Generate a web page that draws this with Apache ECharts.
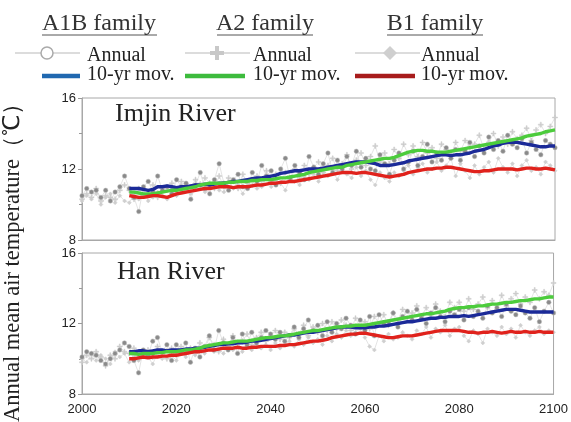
<!DOCTYPE html>
<html><head><meta charset="utf-8">
<script src="https://cdn.jsdelivr.net/npm/echarts@6/dist/echarts.min.js"></script>
<style>html,body{margin:0;padding:0;background:#fff}#c{width:571px;height:422px}</style>
</head><body><div id="c"></div>
<script>
// ---- data ----
const rivers = ["Imjin River", "Han River"];
const scenarios = ["A1B family", "A2 family", "B1 family"];
const xTicks = [2000, 2020, 2040, 2060, 2080, 2100];
const yTicks = [8, 12, 16];
const annualStart = 2000;
const movStart = 2010;

// Imjin River annual (2000-2100)
const imjinA1BAnnual = [10.5,10.9,10.7,10.8,10.4,10.8,10.2,10.7,11.0,11.6,
 10.9,10.4,9.6,11.0,11.3,10.7,11.6,10.8,11.0,10.6,
 11.4,11.0,11.2,10.3,11.1,11.8,10.9,10.6,11.4,12.3,
 11.2,10.8,11.4,11.7,11.0,10.9,11.8,11.3,12.2,11.6,
 11.9,11.1,12.0,12.6,11.5,12.2,11.8,11.4,12.7,12.1,
 11.7,12.3,12.9,11.8,12.5,12.0,12.7,12.2,13.0,12.1,
 12.6,12.0,11.9,12.8,12.3,11.7,12.5,12.9,12.0,12.4,
 13.0,12.2,12.7,13.4,12.4,12.9,12.5,13.2,12.6,13.1,
 12.5,13.0,13.5,12.7,13.3,12.9,13.8,13.1,13.6,13.0,
 13.9,13.4,13.2,13.7,12.9,13.5,13.1,12.8,13.6,13.4,13.2];
const imjinA2Annual = [10.3,10.6,10.4,10.9,10.2,10.5,10.4,10.3,10.8,11.1,
 10.8,10.3,10.9,10.5,10.6,11.1,10.4,10.9,10.8,11.2,
 10.6,11.3,10.8,11.0,11.4,10.9,11.5,11.2,10.9,11.6,
 11.0,11.5,11.3,10.9,11.7,11.2,11.1,11.6,11.3,11.9,
 11.3,11.7,11.2,11.8,11.4,12.0,11.5,12.2,11.7,12.1,
 12.4,11.8,12.2,12.6,11.9,12.3,12.8,12.0,12.5,12.9,
 12.2,12.7,13.3,12.4,12.9,12.3,13.1,12.6,13.4,12.8,
 13.3,12.7,13.5,12.9,13.2,12.6,13.4,13.1,12.8,13.5,
 13.0,13.6,13.2,13.4,13.9,13.1,13.5,14.0,13.3,13.8,
 13.4,14.1,13.7,13.9,14.3,13.6,14.2,14.5,14.0,14.4,14.9];
const imjinB1Annual = [10.2,10.5,10.3,10.6,10.0,10.4,10.6,10.1,10.5,10.2,
 10.1,10.6,10.3,10.8,10.2,10.4,10.7,10.5,10.3,10.9,
 10.5,10.8,11.1,10.6,10.9,11.2,10.7,11.0,11.3,10.8,
 10.7,11.3,10.9,11.1,10.6,11.2,11.4,10.9,11.0,11.5,
 11.0,11.4,11.2,10.8,11.5,11.3,11.1,11.6,11.4,11.7,
 11.3,11.8,11.6,11.9,11.4,12.0,11.7,11.5,12.1,11.6,
 11.9,11.4,11.1,11.8,11.5,11.3,11.8,11.6,11.9,12.2,
 11.7,12.1,12.3,11.8,12.0,12.4,11.9,12.2,12.6,11.6,
 12.3,11.9,11.5,12.2,11.7,12.1,12.4,11.8,12.6,12.1,
 11.8,12.3,11.6,12.2,12.5,11.9,12.1,11.7,12.4,12.2,11.9];
// Imjin River 10-yr moving averages (2010-2100)
const imjinA1BMov = [10.9,10.9,10.9,10.85,10.8,10.85,11.0,11.0,11.05,11.0,
 10.95,11.0,11.0,11.05,11.1,11.1,11.15,11.1,11.15,11.2,
 11.2,11.25,11.3,11.3,11.35,11.4,11.45,11.5,11.5,11.55,
 11.6,11.65,11.75,11.8,11.85,11.9,11.9,11.95,12.0,12.0,
 12.0,12.05,12.1,12.15,12.2,12.25,12.3,12.35,12.4,12.4,
 12.4,12.35,12.3,12.2,12.2,12.2,12.25,12.3,12.35,12.45,
 12.5,12.55,12.6,12.65,12.7,12.75,12.8,12.8,12.75,12.8,
 12.8,12.85,12.9,13.0,13.05,13.1,13.2,13.3,13.35,13.45,
 13.5,13.5,13.5,13.45,13.4,13.35,13.3,13.25,13.25,13.3,13.3];
const imjinA2Mov = [10.7,10.7,10.65,10.6,10.6,10.6,10.65,10.7,10.75,10.8,
 10.8,10.85,10.9,10.95,11.0,11.1,11.15,11.2,11.2,11.2,
 11.2,11.25,11.25,11.3,11.3,11.3,11.35,11.35,11.4,11.4,
 11.4,11.45,11.5,11.5,11.55,11.6,11.65,11.7,11.8,11.85,
 11.9,11.95,12.0,12.05,12.1,12.1,12.2,12.25,12.3,12.35,
 12.4,12.45,12.5,12.55,12.6,12.6,12.65,12.75,12.85,12.95,
 13.0,13.05,13.05,13.0,13.0,12.95,12.95,12.95,13.0,13.05,
 13.1,13.15,13.2,13.25,13.3,13.35,13.4,13.45,13.5,13.55,
 13.6,13.65,13.7,13.75,13.85,13.9,13.95,14.0,14.1,14.15,14.2];
const imjinB1Mov = [10.5,10.45,10.4,10.4,10.45,10.5,10.5,10.45,10.4,10.5,
 10.6,10.65,10.7,10.75,10.8,10.85,10.9,10.9,10.95,11.0,
 11.0,11.0,10.95,11.0,11.0,11.0,11.05,11.1,11.1,11.15,
 11.2,11.2,11.25,11.25,11.3,11.3,11.35,11.4,11.45,11.5,
 11.55,11.6,11.65,11.7,11.75,11.8,11.8,11.8,11.75,11.8,
 11.8,11.75,11.7,11.65,11.6,11.55,11.6,11.65,11.7,11.8,
 11.85,11.9,11.95,12.0,12.0,12.05,12.05,12.1,12.1,12.05,
 12.0,11.95,11.9,11.85,11.85,11.9,11.9,11.95,12.0,12.0,
 12.0,12.0,11.95,12.0,12.05,12.05,12.0,12.0,12.05,12.0,11.95];

// Han River annual (2000-2100)
const hanA1BAnnual = [10.1,10.4,10.3,10.2,9.9,9.7,10.0,10.3,10.5,10.9,
 10.7,9.9,9.2,10.5,10.2,11.0,11.2,10.4,10.8,9.9,
 10.8,10.4,10.9,9.8,10.6,10.1,10.7,11.3,10.5,11.6,
 10.9,10.5,11.2,10.3,11.4,10.8,11.5,10.9,11.2,11.6,
 11.4,11.1,11.5,11.0,11.3,11.8,11.2,11.7,12.2,11.6,
 11.9,11.3,12.1,11.5,12.0,11.7,12.3,11.9,11.4,12.2,
 11.6,12.4,11.3,12.5,12.0,12.1,12.6,11.8,12.4,12.7,
 12.2,12.8,12.3,12.0,12.6,12.9,12.4,12.1,12.7,12.5,
 12.8,12.2,12.9,12.4,12.7,12.3,13.0,12.6,12.9,12.4,
 13.1,12.7,12.5,13.0,12.6,12.3,12.9,12.1,12.7,13.2,12.6];
const hanA2Annual = [9.8,10.2,10.0,10.4,10.1,9.6,10.2,10.0,10.7,10.4,
 10.3,10.6,10.0,10.2,10.5,10.1,10.7,10.3,10.0,10.6,
 10.2,10.7,10.4,10.6,10.3,10.9,10.5,11.2,10.8,10.4,
 11.1,10.7,11.3,10.9,11.0,11.4,10.8,11.2,11.5,11.0,
 11.3,11.6,11.1,11.5,11.2,11.7,11.4,11.9,11.3,11.8,
 11.5,12.0,11.6,12.1,11.7,12.2,11.9,11.6,12.3,11.8,
 12.1,11.7,12.4,12.0,12.5,11.9,12.6,12.2,12.8,12.3,
 12.6,13.0,12.4,12.9,12.5,13.1,12.7,12.4,13.2,12.9,
 13.2,12.7,13.4,12.8,13.1,13.5,12.9,13.3,12.8,13.6,
 13.0,13.4,13.7,13.1,13.5,13.2,13.9,13.4,13.8,13.6,14.3];
const hanB1Annual = [10.0,9.8,10.3,9.9,10.2,10.0,9.7,10.4,10.1,10.3,
 9.8,10.2,9.9,10.4,10.1,9.7,10.3,10.0,10.5,10.2,
 9.9,10.4,10.1,10.6,10.2,10.5,10.3,10.8,10.4,10.6,
 10.3,10.8,10.5,10.9,10.4,10.7,10.5,10.9,10.6,10.8,
 10.5,10.9,10.6,10.8,11.0,10.7,11.1,10.8,11.2,10.9,
 11.1,10.8,11.3,11.0,11.4,11.2,11.6,11.3,11.5,11.7,
 11.2,10.7,10.5,11.3,11.0,11.4,11.1,11.2,11.5,11.3,
 11.1,11.6,11.4,11.8,11.2,11.7,11.5,11.9,11.3,11.7,
 11.8,11.3,11.0,11.6,11.4,10.9,11.7,11.5,11.3,11.8,
 11.4,11.7,11.2,11.9,11.5,11.3,11.6,11.8,11.4,11.6,11.5];
// Han River 10-yr moving averages (2010-2100)
const hanA1BMov = [10.4,10.4,10.45,10.45,10.4,10.45,10.5,10.5,10.45,10.5,
 10.5,10.5,10.55,10.55,10.6,10.6,10.65,10.7,10.75,10.8,
 10.8,10.85,10.85,10.9,10.9,10.95,11.0,11.0,11.05,11.1,
 11.15,11.2,11.25,11.3,11.35,11.35,11.4,11.45,11.5,11.5,
 11.55,11.6,11.65,11.7,11.75,11.8,11.8,11.8,11.75,11.75,
 11.75,11.8,11.8,11.85,11.85,11.9,11.95,12.0,12.05,12.1,
 12.1,12.15,12.2,12.25,12.3,12.3,12.35,12.35,12.4,12.4,
 12.4,12.45,12.4,12.45,12.5,12.55,12.6,12.65,12.7,12.75,
 12.8,12.8,12.8,12.75,12.7,12.65,12.65,12.65,12.65,12.65,12.65];
const hanA2Mov = [10.3,10.3,10.25,10.3,10.3,10.3,10.35,10.35,10.4,10.4,
 10.4,10.45,10.5,10.5,10.55,10.6,10.7,10.75,10.8,10.85,
 10.9,10.9,10.95,11.0,11.0,11.0,11.05,11.1,11.15,11.2,
 11.2,11.25,11.3,11.3,11.35,11.4,11.45,11.5,11.55,11.6,
 11.6,11.65,11.7,11.75,11.8,11.8,11.85,11.85,11.9,11.9,
 11.9,11.95,12.0,12.05,12.1,12.15,12.2,12.25,12.3,12.35,
 12.4,12.45,12.5,12.55,12.55,12.6,12.65,12.7,12.8,12.85,
 12.9,12.9,12.95,12.95,13.0,13.0,13.05,13.1,13.1,13.15,
 13.2,13.2,13.25,13.3,13.3,13.35,13.4,13.4,13.45,13.5,13.5];
const hanB1Mov = [10.0,10.0,10.05,10.1,10.05,10.1,10.1,10.15,10.15,10.2,
 10.2,10.25,10.3,10.35,10.4,10.4,10.45,10.5,10.5,10.55,
 10.6,10.6,10.6,10.65,10.6,10.6,10.65,10.65,10.7,10.7,
 10.7,10.7,10.75,10.75,10.8,10.8,10.85,10.9,10.95,11.0,
 11.0,11.05,11.1,11.2,11.25,11.3,11.35,11.4,11.4,11.45,
 11.45,11.4,11.35,11.3,11.25,11.2,11.2,11.25,11.3,11.3,
 11.3,11.35,11.4,11.45,11.5,11.55,11.6,11.6,11.6,11.6,
 11.6,11.55,11.5,11.5,11.45,11.5,11.5,11.55,11.5,11.45,
 11.5,11.55,11.5,11.5,11.55,11.5,11.5,11.55,11.5,11.5,11.5];

// ---- styling ----
const movColors = ['#1b2a98', '#4ccc3c', '#e0221c'];
const legColors = ['#2068b0', '#3dbb3d', '#a81c1c'];
const serif = '"Liberation Serif", "Times New Roman", serif';
const sans = '"Liberation Sans", Arial, sans-serif';
const plusPath = 'path://M4,0H6V4H10V6H6V10H4V6H0V4H4Z';
const annualSym = [
  {symbol: 'circle', size: 4.5, color: '#8a8a8a', border: '#bdbdbd'},
  {symbol: plusPath, size: 5, color: '#cccccc', border: '#cccccc'},
  {symbol: 'diamond', size: 4, color: '#cfcfcf', border: '#cfcfcf'}
];

function pairs(start, arr) { return arr.map((v, i) => [start + i, v]); }

const annualData = [[imjinA1BAnnual, imjinA2Annual, imjinB1Annual], [hanA1BAnnual, hanA2Annual, hanB1Annual]];
const movData = [[imjinA1BMov, imjinA2Mov, imjinB1Mov], [hanA1BMov, hanA2Mov, hanB1Mov]];

const series = [];
[0, 1].forEach(p => {
  [2, 1, 0].forEach(s => {
    const st = annualSym[s];
    series.push({
      type: 'line', xAxisIndex: p, yAxisIndex: p, name: scenarios[s] + ' Annual',
      data: pairs(annualStart, annualData[p][s]),
      symbol: st.symbol, symbolSize: st.size, showSymbol: true,
      lineStyle: {color: '#d2d2d2', width: 0.6},
      itemStyle: {color: st.color, borderColor: st.border, borderWidth: 0.5},
      animation: false, silent: true, z: 2
    });
  });
  [0, 1, 2].forEach(s => {
    series.push({
      type: 'line', xAxisIndex: p, yAxisIndex: p, name: scenarios[s] + ' 10-yr mov.',
      data: pairs(movStart, movData[p][s]),
      symbol: 'none', lineStyle: {color: movColors[s], width: 3.4},
      animation: false, silent: true, z: 3
    });
  });
});

const grids = [
  {left: 82, top: 98, width: 473, height: 142, show: true, borderColor: '#a8a8a8', borderWidth: 1},
  {left: 82, top: 253, width: 473, height: 141, show: true, borderColor: '#a8a8a8', borderWidth: 1}
];
const xAxes = [0, 1].map(p => ({
  type: 'value', gridIndex: p, min: xTicks[0], max: xTicks[xTicks.length - 1], interval: 20,
  axisLine: {show: true, lineStyle: {color: '#a8a8a8'}},
  axisTick: {show: false}, splitLine: {show: false},
  axisLabel: {show: p === 1, fontFamily: sans, fontSize: 13, color: '#222', margin: 9,
    formatter: v => xTicks.includes(v) ? String(v) : ''}
}));
const yAxes = [0, 1].map(p => ({
  type: 'value', gridIndex: p, min: yTicks[0], max: yTicks[yTicks.length - 1], interval: 4,
  axisLine: {show: true, lineStyle: {color: '#a8a8a8'}},
  axisTick: {show: true, length: 4, lineStyle: {color: '#999'}},
  minorTick: {show: true, splitNumber: 2, length: 3, lineStyle: {color: '#999'}},
  splitLine: {show: false},
  axisLabel: {fontFamily: sans, fontSize: 13, color: '#222', margin: 6}
}));

// legend built from graphic elements
const legendX = [[15, 47, 80, 87, 99], [185, 217, 250, 253, 265], [355, 390, 420, 421, 435]];
const movSeg = [[42, 80], [185, 245], [355, 415]];
const graphics = [];
scenarios.forEach((name, s) => {
  const lx = legendX[s];
  graphics.push({type: 'text', x: lx[4], y: 24,
    style: {text: name, font: '24px ' + serif, fill: '#333', textAlign: 'center', textVerticalAlign: 'middle'}, z: 10});
  graphics.push({type: 'text', x: lx[3], y: 56,
    style: {text: 'Annual', font: '20px ' + serif, fill: '#222', textAlign: 'left', textVerticalAlign: 'middle'}, z: 10});
  graphics.push({type: 'text', x: lx[3], y: 75,
    style: {text: '10-yr mov.', font: '20px ' + serif, fill: '#222', textAlign: 'left', textVerticalAlign: 'middle'}, z: 10});
  graphics.push({type: 'line', shape: {x1: lx[0], y1: 53, x2: lx[2], y2: 53}, style: {stroke: '#d0d0d0', lineWidth: 1.5}, z: 9});
  graphics.push({type: 'line', shape: {x1: movSeg[s][0], y1: 76, x2: movSeg[s][1], y2: 76}, style: {stroke: legColors[s], lineWidth: 4.5}, z: 9});
});
// underlines
graphics.push({type: 'line', shape: {x1: 42, y1: 35, x2: 157, y2: 35}, style: {stroke: '#555', lineWidth: 1}});
graphics.push({type: 'line', shape: {x1: 217, y1: 35, x2: 313, y2: 35}, style: {stroke: '#555', lineWidth: 1}});
graphics.push({type: 'line', shape: {x1: 387, y1: 35, x2: 483, y2: 35}, style: {stroke: '#555', lineWidth: 1}});
// legend symbols
graphics.push({type: 'circle', shape: {cx: 47, cy: 53, r: 6}, style: {fill: '#fff', stroke: '#aaa', lineWidth: 1.5}, z: 10});
graphics.push({type: 'rect', shape: {x: 215, y: 46, width: 4, height: 14}, style: {fill: '#c8c8c8'}, z: 10});
graphics.push({type: 'rect', shape: {x: 210, y: 51, width: 14, height: 4}, style: {fill: '#c8c8c8'}, z: 10});
graphics.push({type: 'polygon', shape: {points: [[390, 46], [397, 53], [390, 60], [383, 53]]}, style: {fill: '#cfcfcf'}, z: 10});
// panel labels
graphics.push({type: 'text', x: 115, y: 114, style: {text: rivers[0], font: '26px ' + serif, fill: '#222', textVerticalAlign: 'middle'}, z: 10});
graphics.push({type: 'text', x: 117, y: 272, style: {text: rivers[1], font: '26px ' + serif, fill: '#222', textVerticalAlign: 'middle'}, z: 10});
// y axis title
graphics.push({type: 'text', x: 13, y: 257, rotation: Math.PI / 2,
  style: {text: 'Annual mean air temperature（℃）', font: '22.5px ' + serif, fill: '#222', textAlign: 'center', textVerticalAlign: 'middle'}, z: 10});

const chart = echarts.init(document.getElementById('c'));
chart.setOption({
  backgroundColor: '#fff',
  animation: false,
  grid: grids, xAxis: xAxes, yAxis: yAxes,
  series: series,
  graphic: graphics
});
</script></body></html>
